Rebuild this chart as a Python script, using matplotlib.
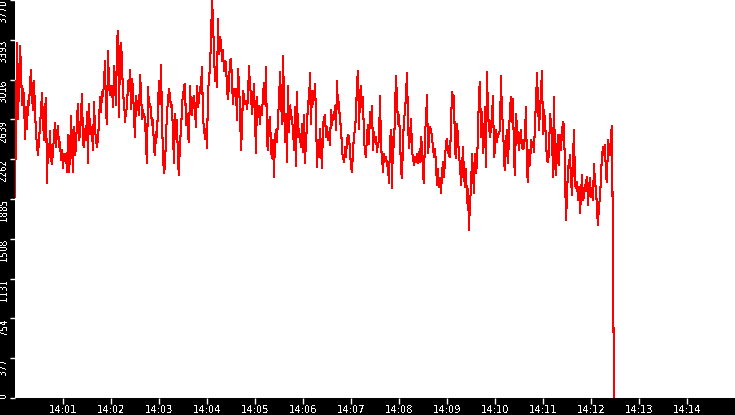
import numpy as np
import pandas as pd
import matplotlib
matplotlib.use("Agg")
import matplotlib.pyplot as plt

plt.rcParams["text.antialiased"] = False

# ---- data (roughly one sample per pixel) ----
seg_a = [1907,2645,3361,2645,3006,3336,3132,2771,2928,2849,
         2457,2755,2551,2818,2771,2975,3110,2865,2724,3006,
         2724,2504,2394,2300,2441,2583,2724,2890,2630,2441,
         2740,2843,2039,2410,2284,2526,2269,2212,2347,2473,
         2608,2378,2520,2573,2378,2426,2253,2347,2174,2316,
         2253,2316,2143,2488,2143,2284,2667,2410,2143,2567,
         2300,2378,2645,2787,2441,2488,2677,2881,2410,2378,
         2551,2441,2714,2221,2787,2504,2567,2520,2353,2802,
         2551,2441,2378,2457,2614,2849,2708,2897,2865,2975,
         3195,2708,2598,3289,2959,2865,2959,2944,2755,3148,
         2975,2771,3389,3477,2661,3305,3367,3195,2849,2834,
         2614,2724,2740,3006,2912,3107,2740,3022,2928,2661,
         2473,2865,2724,2818,2677,3060,2912]
seg_b = [2645,2724,2661,2661,2394,2221,2944,2755,2787,2724,
         2583,2630,2347,2300,2520,2473,2771,3006,2787,3154,
         2645,2284,2134,2206,2473,2708,2818,2928,2849,2755,
         2771,2488,2221,2692,2457,2630,2221,2112,2473,2488,
         2802,2849,2959,2975,2583,2692,2473,2426,2959,2755,
         2677,2818,2865,2724,2567,2959,2755,2834,2944,2959,
         3132,2645,2551,2457,2551,2363,2912,3006,3148,3393,
         3760,3587,3258,3006,3085,2944,3587,3258,3415,3383,
         3195,3295,3101,3195,3179,2928,2834,2975,3201,3211,
         3006,2787,2928,2881,2928,2630,3116,2975,2724,2347,
         2551,2912,2849,2787,2818,2740,2849,3148,2944,2881,
         2692,2818,2975,2655,2322,2849,2661,2771,2598]
seg_c = [2755,2677,2881,2981,2787,3138,2416,2347,2614,2661,
         2353,2269,2441,2096,2473,2535,2426,2661,2802,3091,
         2849,2598,3242,2824,2426,2692,2237,2959,2520,2771,
         2692,2630,2551,2347,2761,2199,2903,2473,2551,2457,
         2378,2598,2331,2683,2228,2457,2567,2818,2787,3075,
         2598,2912,2787,2849,2975,2692,2190,2441,2284,2551,
         2363,2174,2583,2645,2677,2473,2567,2441,2520,2394,
         2724,2583,2677,2645,2771,2542,3006,2740,2802,2598,
         2592,2331,2284,2237,2378,2284,2441,2488,2473,2331,
         2196,2143,2347,2488,2535,2699,2975,3101,2551,2874,
         2959,2755,2849,2441,2347,2278,2504,2583,2410,2708,
         2661,2771,2347,2520,2426,2473,2331,2410,2426]
seg_d = [2865,2378,2284,2143,2316,2253,2284,2206,2190,2039,
         2426,2535,1992,2473,2378,2714,3054,2818,2598,2677,
         2473,2159,2080,2426,2645,2708,2881,3075,2630,2363,
         2473,2645,2347,2269,2206,2284,2237,2316,2221,2331,
         2237,2473,2378,2112,2033,2535,2614,2875,2316,2441,
         2567,2535,2473,2363,2284,2363,2206,2017,2174,2002,
         2080,1939,2127,2237,2096,2253,2426,2457,2331,2300,
         2284,2583,2897,2849,2865,2353,2269,2598,2473,2284,
         2221,2017,2174,2378,2096,2002,2174,1845,1976,1593,
         1876,1954,2316,2127,1945,2316,2127,2221,2520,2897,
         2991,2473,2708,2316,2426,2755,2190,3085,2692,2583,
         2473,2567,2677,2865,2284,2347,2535,2426,2504]
seg_e = [2504,2551,3054,2645,2630,2237,2159,2426,2535,2221,
         2504,2740,2849,2614,2834,2269,2112,2692,2567,2473,
         2347,2488,2535,2363,2441,2363,2520,2755,2127,2049,
         2347,2206,2441,2378,2426,2331,2614,2802,3075,2818,
         2535,2740,2897,3101,2504,2724,2630,2426,2253,2237,
         2331,2692,2598,2520,2096,2849,2221,2112,2331,2488,
         2206,2488,2347,2535,2614,2583,2143,1688,1907,2190,
         2206,2300,2064,1923,2284,2535,2033,1986,2049,1876,
         2002,1750,1939,2112,1876,1907,2002,2049,2096,1829,
         2002,2080,1907,1939,1876,2221,2017,2002,1766,1641,
         1845,1876,2127,2284,2378,2300,2394,2096,2049,2441,
         2378,2300,2495,2580,1282,0]

values = seg_a + seg_b + seg_c + seg_d + seg_e
start_time = "2024-01-01 14:00:00"
end_time = "2024-01-01 14:15:00"
sample_step = "1250ms"

y_ticks = [0, 377, 754, 1131, 1508, 1885, 2262, 2639, 3016, 3393, 3770]
x_tick_labels = ["14:01", "14:02", "14:03", "14:04", "14:05", "14:06", "14:07",
                 "14:08", "14:09", "14:10", "14:11", "14:12", "14:13", "14:14"]

times = pd.date_range(start_time, periods=len(values), freq=sample_step)
x_ticks = [pd.Timestamp("2024-01-01 " + t) for t in x_tick_labels]

# ---- figure ----
W, H = 735, 415
fig = plt.figure(figsize=(W / 100, H / 100), dpi=100, facecolor="black")
ax = fig.add_axes([15 / W, 17 / H, 720 / W, 398 / H])
ax.set_facecolor("white")

ax.plot(times, values, color="#ff0000", lw=0.75, antialiased=False)

ax.set_xlim(pd.Timestamp(start_time), pd.Timestamp(end_time))
ax.set_ylim(0, 3770)

ax.set_xticks(x_ticks)
ax.set_xticklabels(x_tick_labels)
ax.set_yticks(y_ticks)
ax.set_yticklabels([str(v) for v in y_ticks])

for s in ax.spines.values():
    s.set_visible(False)

ax.tick_params(axis="x", colors="white", length=4, width=1, direction="out",
               labelsize=7.2, pad=1)
ax.tick_params(axis="y", colors="white", length=3.5, width=1, direction="out",
               labelsize=7, pad=1, labelrotation=90)

for lbl in ax.get_yticklabels():
    lbl.set_fontstretch("condensed")
    if lbl.get_text() == "0":
        lbl.set_va("bottom")
    else:
        lbl.set_va("top")

fig.savefig("out.png", dpi=100, facecolor="black")
